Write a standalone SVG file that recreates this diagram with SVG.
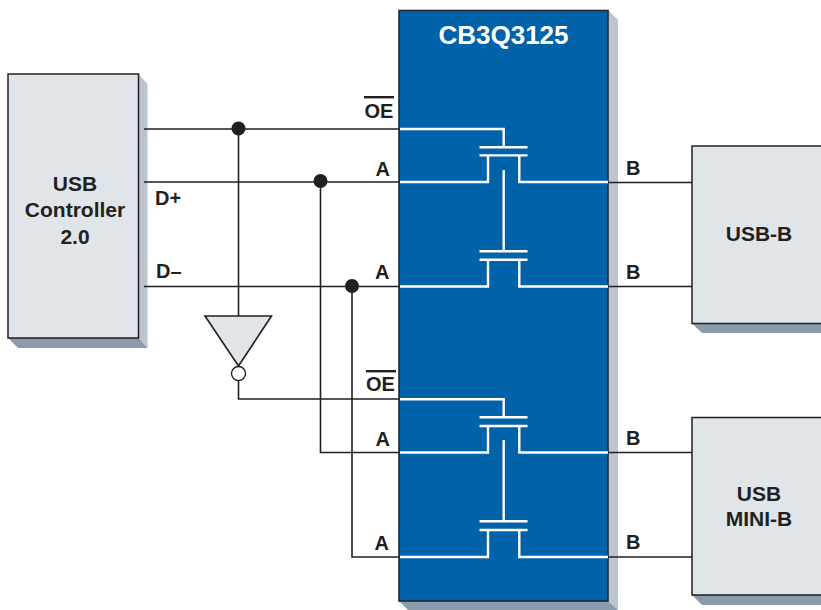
<svg xmlns="http://www.w3.org/2000/svg" width="821" height="610" viewBox="0 0 821 610">
<style>
text{font-family:"Liberation Sans",Arial,sans-serif;font-weight:700;font-size:20px;fill:#231f20}
.c{text-anchor:middle;font-size:21px}
.box{fill:#dfe5e8;stroke:#231f20;stroke-width:1.5}
.side{fill:#bcc4d0}
.bot{fill:#8a9bab}
.w{fill:none;stroke:#231f20;stroke-width:1.6}
.s{fill:none;stroke:#fff;stroke-width:2.4}
.dot{fill:#231f20}
</style>
<rect width="821" height="610" fill="#fff"/>
<g id="chip">
<polygon class="side" points="608,10 618,20 618,610 608,601"/>
<polygon class="bot" points="399,601 608,601 618,610 408,610"/>
<rect x="399" y="10.500" width="209" height="590.500" fill="#0062a8" stroke="#1f2a33" stroke-width="1.600"/>
<text class="c" x="503.500" y="44" style="font-size:26px;fill:#fff">CB3Q3125</text>
</g>
<g id="usb-controller">
<polygon class="side" points="138.500,74 147.500,84 147.500,348 138.500,338"/>
<polygon class="bot" points="8,338 138.500,338 147.500,348 18,348"/>
<rect class="box" x="8" y="74" width="130.500" height="264"/>
<text class="c" x="75" y="191">USB</text>
<text class="c" x="75" y="217">Controller</text>
<text class="c" x="75" y="244">2.0</text>
</g>
<g id="usb-b">
<polygon class="bot" points="692,323.500 821,323.500 821,333 702,333"/>
<rect class="box" x="692" y="146" width="135" height="177.500"/>
<text class="c" x="759" y="241">USB-B</text>
</g>
<g id="usb-mini-b">
<polygon class="bot" points="692,595 821,595 821,605 702,605"/>
<rect class="box" x="692" y="417.500" width="135" height="177.500"/>
<text class="c" x="759" y="501">USB</text>
<text class="c" x="759" y="526">MINI-B</text>
</g>
<g id="inverter">
<polygon points="205,316 271.500,316 238.500,366" fill="#dfe5e8" stroke="#231f20" stroke-width="1.600"/>
<circle cx="238.500" cy="373.500" r="7" fill="#fff" stroke="#231f20" stroke-width="1.400"/>
</g>
<g id="connectors">
<path class="w" d="M144 129H399M144 182H399M144 286.500H399M238.500 129V316M238.500 380.500V399H399M320.500 181V452.500H399M352 286V557H399M608 182.500H692M608 286.500H692M608 452.500H692M608 557H692"/>
<circle class="dot" cx="238.500" cy="128.500" r="7"/>
<circle class="dot" cx="320.500" cy="181" r="7"/>
<circle class="dot" cx="352" cy="286" r="7"/>
</g>
<g id="switch-1">
<path class="s" d="M400 129H503.700V147.300M479.500 147.300H527.500M479.500 155.400H527.500M488 155.400V182H400M519.300 155.400V182H608M503.700 170V251.300M479.500 251.300H527.500M479.500 259.700H527.500M488 259.700V286.500H400M519.300 259.700V286.500H608"/>
</g>
<g id="switch-2">
<path class="s" d="M400 399.300H503.700V417.300M479.500 417.300H527.500M479.500 426H527.500M488 426V452.500H400M519.300 426V452.500H608M503.700 440V521.300M479.500 521.300H527.500M479.500 530H527.500M488 530V557H400M519.300 530V557H608"/>
</g>
<g id="labels">
<rect x="364" y="96" width="30" height="2.400" fill="#231f20"/>
<text x="364.500" y="118">OE</text>
<rect x="366" y="370" width="30" height="2.400" fill="#231f20"/>
<text x="366" y="391">OE</text>
<text x="375.500" y="175.500">A</text>
<text x="375" y="279">A</text>
<text x="375.500" y="445.500">A</text>
<text x="374.500" y="549.500">A</text>
<text x="626" y="174.500">B</text>
<text x="626" y="278.500">B</text>
<text x="626" y="444.500">B</text>
<text x="626" y="548.500">B</text>
<text x="155" y="205">D+</text>
<text x="156" y="278">D–</text>
</g>
</svg>
